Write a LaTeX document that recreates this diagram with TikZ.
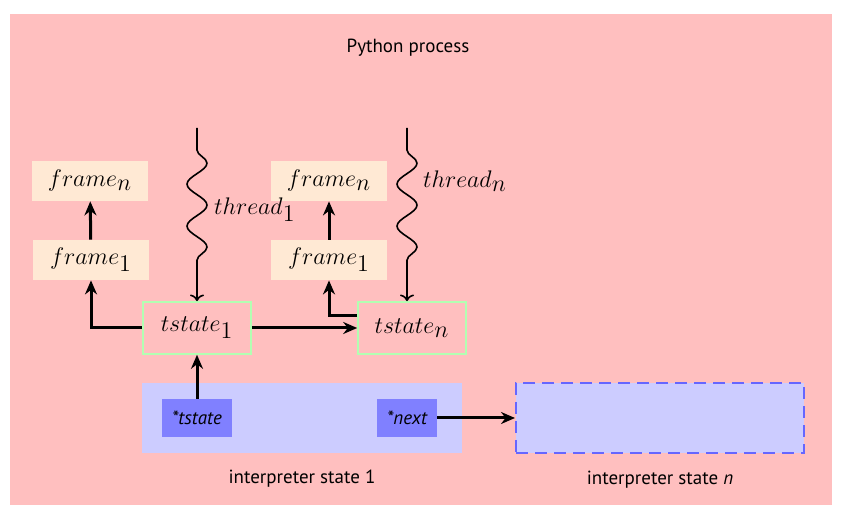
\documentclass[tikz,border=0pt]{standalone}
\usepackage[no-math]{fontspec}
\setmainfont{PT Sans}
\usepackage{amsmath}
\usepackage{xcolor}
\usepackage{tikz}
\usetikzlibrary{
	arrows.meta,
	decorations.pathmorphing,
	positioning
}

\newcommand{\lbl}[2]{\fontsize{13}{15}\selectfont$#1_{\textstyle #2}$}

\tikzset{
	framebox/.style={fill=orange!17,minimum width=58pt,minimum height=20pt},
	tstatebox/.style={draw=green!30,thick,minimum width=54pt,minimum height=26pt},
	ptrbox/.style={fill=blue!50,minimum height=19pt,font=\itshape\fontsize{9.5}{11}\selectfont},
	interpbox/.style={fill=blue!20,minimum width=160pt,minimum height=35pt},
	ptr/.style={-{Stealth[length=7pt,width=6pt]},line width=1.5pt},
	thread/.style={->,thick,decorate,
		decoration={snake,segment length=21pt,amplitude=5pt,pre length=11pt,post length=18pt}}
}

\begin{document}
\begin{tikzpicture}[x=0.5pt,y=-0.5pt,font=\fontsize{9.5}{11}\selectfont]
		\useasboundingbox[fill=white] (0,0) rectangle (849,522);
		\fill[red!25] (10,14) rectangle (832,505);
		\node (title) at (408,48) {Python process};

		% frames
		\node[framebox] (framen) at (90,181) {\lbl{frame}{n}};
		\node[framebox] (frame1) at (91,260) {\lbl{frame}{1}};
		\node[framebox] (framenb) at (329,181) {\lbl{frame}{n}};
		\node[framebox] (frame1b) at (329,260) {\lbl{frame}{1}};

		% thread states
		\node[tstatebox] (tstate1) at (197,328) {\lbl{tstate}{1}};
		\node[tstatebox] (tstaten) at (412,328) {\lbl{tstate}{n}};

		% interpreter states
		\node[interpbox] (interp1) at (302,418) {};
		\node[ptrbox,minimum width=35pt] (tstateptr) at (197,418) {*tstate};
		\node[ptrbox,minimum width=30pt] (nextptr) at (407,418) {*next};
		\node[below=5pt of interp1] (interp1label) {interpreter state 1};
		\node[interpbox,draw=blue!60,line width=1pt,dash pattern=on 6pt off 3.5pt,
			minimum width=144pt] (interpn) at (660,418) {};
		\node[below=5pt of interpn] (interpnlabel) {interpreter state \textit{n}};

		% threads
		\coordinate (thread1top) at (197,128);
		\coordinate (threadntop) at (407,128);
		\draw[thread] (thread1top) -- (tstate1.north);
		\draw[thread] (threadntop) -- ([xshift=-2.5pt]tstaten.north);
		\node[anchor=west] (thread1label) at (207,210) {\lbl{thread}{1}};
		\node[anchor=west] (threadnlabel) at (416,181) {\lbl{thread}{n}};

		% pointers
		\draw[ptr] (frame1) -- (framen);
		\draw[ptr] (frame1b) -- (framenb);
		\draw[ptr] (tstate1.west) -| (frame1.south);
		\draw[ptr] ([yshift=6pt]tstaten.west) -| (frame1b.south);
		\draw[ptr] (tstate1) -- (tstaten);
		\draw[ptr] (tstateptr) -- (tstate1);
		\draw[ptr] (nextptr) -- (interpn);
	\end{tikzpicture}
\end{document}
